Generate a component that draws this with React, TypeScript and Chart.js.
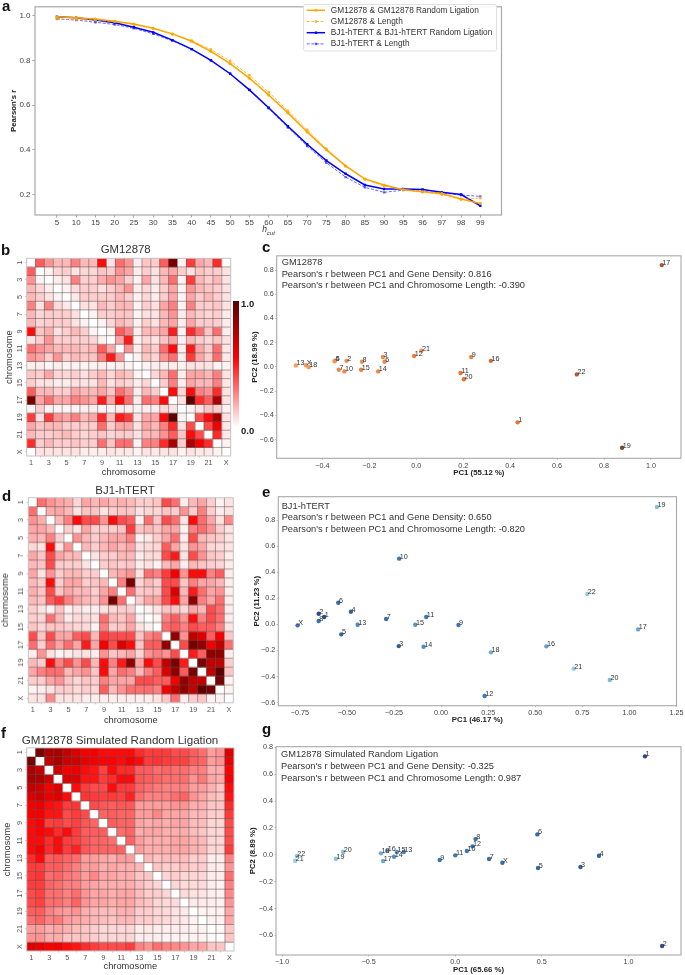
import React, { useEffect, useRef } from "react";
import { Chart, registerables } from "chart.js";

Chart.register(...registerables);

const FONT = "'Liberation Sans', Arial, sans-serif";
Chart.defaults.font.family = FONT;

// ---------- data ----------
const hcutLabels = ["5","10","15","20","25","30","35","40","45","50","55","60","65","70","75","80","85","90","95","96","97","98","99"];
const gmRandom = [.995,.99,.985,.975,.962,.943,.918,.885,.84,.785,.72,.645,.565,.48,.40,.328,.27,.243,.222,.213,.205,.18,.16];
const gmLength = [.985,.982,.98,.972,.96,.942,.918,.888,.848,.797,.733,.658,.575,.49,.405,.328,.268,.238,.222,.212,.2,.178,.185];
const bjRandom = [.995,.99,.98,.968,.948,.925,.89,.85,.8,.74,.668,.588,.505,.425,.352,.293,.243,.225,.225,.223,.21,.2,.15];
const bjLength = [.985,.98,.97,.96,.943,.918,.887,.85,.8,.74,.667,.585,.5,.417,.342,.278,.232,.21,.22,.215,.207,.198,.192];
const seriesNames = ["GM12878 & GM12878 Random Ligation","GM12878 & Length","BJ1-hTERT & BJ1-hTERT Random Ligation","BJ1-hTERT & Length"];
const pearsonTicks = [0.2,0.4,0.6,0.8,1.0];

const chroms = ["1","2","3","4","5","6","7","8","9","10","11","12","13","14","15","16","17","18","19","20","21","22","X"];

const gmUpper = [
[.4,.25,.15,.15,.3,.15,.15,.65,.05,.35,.25,.03,.12,.1,.4,.95,.02,.5,.2,.15,.55,0],
[.02,.08,.1,.05,.08,.08,.12,.1,.25,.2,.03,.1,.05,.15,.2,.1,.06,.12,.1,.1,.05],
[.03,.05,.3,.1,.1,.18,.25,.2,.1,.02,.2,.05,.15,.35,.02,.5,.15,.1,.15,.05],
[.02,.07,.1,.1,.06,.1,.15,.25,.03,.08,.03,.1,.2,.02,.25,.15,.12,.1,.05],
[.04,.1,.1,.1,.1,.15,.1,.02,.08,.03,.1,.2,.02,.2,.1,.15,.1,.05],
[.06,.05,.15,.1,.15,.15,.02,.1,.06,.2,.3,.02,.3,.1,.1,.12,.05],
[.02,.1,.1,.12,.12,.02,.06,.05,.15,.25,.03,.15,.1,.08,.1,.03],
[.02,.08,.15,.12,.02,.1,.05,.15,.2,.03,.2,.1,.1,.1,.03],
[.02,.4,.3,.03,.15,.15,.2,.6,.02,.55,.35,.12,.35,.03],
[.2,.6,.02,.08,.05,.12,.2,.02,.15,.1,.08,.12,.05],
[.25,.03,.15,.1,.35,.65,.03,.6,.2,.1,.35,.04],
[.02,.12,.08,.25,.35,.03,.5,.2,.1,.35,.04],
[.02,.03,.03,.03,.02,.05,.05,.05,.02,.02],
[.08,.15,.35,.03,.2,.2,.15,.3,.05],
[.1,.3,.03,.2,.15,.15,.3,.04],
[.65,.08,.65,.3,.25,.55,.05],
[.05,1,.55,.4,.85,.05],
[.02,.05,.12,.1,.02],
[.45,.65,.85,.05],
[.45,.7,.04],
[.55,.04],
[.02],
];

const bjUpper = [
[.35,.25,.2,.18,.08,.2,.15,.2,.15,.18,.15,.1,.1,.12,.45,.35,.03,.15,.2,.1,.02,.05],
[.18,.2,.15,.05,.12,.12,.05,.1,.12,.12,.05,.08,.08,.12,.1,.25,.1,.3,.1,.03,.05],
[.15,.3,.65,.45,.45,.25,.65,.45,.4,.02,.35,.12,.45,.35,.05,.65,.35,.2,.05,.28],
[.1,.05,.2,.1,.1,.1,.12,.5,.12,.15,.12,.2,.2,.02,.3,.35,.25,.1,.05],
[.25,.15,.1,.15,.2,.2,.3,.02,.04,.1,.2,.35,.03,.45,.15,.12,.1,.05],
[.15,.1,.15,.2,.15,.2,.05,.07,.08,.4,.2,.05,.25,.2,.08,.07,.05],
[.05,.1,.1,.15,.15,.03,.07,.07,.45,.6,.05,.45,.25,.12,.1,.03],
[.1,.12,.1,.12,.03,.05,.02,.15,.2,.03,.15,.12,.1,.08,.03],
[.15,.2,.25,.05,.35,.3,.5,.7,.25,.65,.65,.3,.4,.03],
[.3,.95,.08,.15,.1,.45,.45,.12,.3,.2,.2,.15,.03],
[.35,.1,.12,.12,.45,.75,.15,.6,.35,.2,.25,.03],
[.1,.2,.2,.45,.65,.2,.9,.3,.2,.35,.03],
[.02,.05,.12,.12,.08,.2,.15,.45,.35,.03],
[.02,.3,.4,.25,.65,.3,.45,.35,.03],
[.35,.4,.3,.45,.4,.4,.3,.05],
[.9,.25,.8,.75,.4,.7,.12],
[.45,.95,.9,.7,.8,.35],
[.6,.4,.9,.9,.03],
[.95,.8,.8,.1],
[.8,1,.12],
[.95,.02],
[.02],
];

const simUpper = [
[.95,.85,.85,.8,.75,.7,.7,.65,.65,.65,.65,.55,.5,.5,.5,.45,.45,.4,.35,.22,.25,.75],
[.8,.85,.78,.78,.72,.7,.68,.68,.65,.7,.65,.5,.52,.5,.48,.48,.4,.38,.22,.25,.72],
[.78,.7,.72,.65,.62,.48,.65,.55,.55,.4,.4,.35,.38,.35,.35,.3,.3,.18,.18,.68],
[.75,.75,.62,.62,.5,.55,.65,.65,.42,.4,.38,.35,.35,.35,.25,.32,.2,.18,.7],
[.65,.5,.45,.45,.65,.5,.5,.38,.35,.32,.3,.3,.3,.22,.22,.17,.12,.65],
[.52,.5,.48,.5,.48,.58,.35,.3,.3,.3,.35,.38,.25,.2,.14,.12,.62],
[.45,.42,.4,.42,.42,.22,.22,.22,.22,.25,.25,.18,.18,.12,.12,.55],
[.38,.4,.38,.38,.22,.22,.28,.2,.2,.2,.15,.15,.1,.1,.5],
[.4,.38,.38,.2,.18,.2,.18,.2,.2,.14,.14,.08,.08,.45],
[.35,.38,.18,.2,.2,.18,.18,.18,.14,.12,.08,.08,.45],
[.38,.22,.18,.18,.18,.2,.2,.17,.15,.08,.08,.45],
[.22,.18,.18,.18,.2,.2,.17,.15,.08,.08,.5],
[.15,.12,.14,.14,.14,.1,.1,.03,.03,.3],
[.12,.1,.1,.12,.1,.1,.04,.03,.25],
[.08,.1,.08,.08,.08,.03,.03,.35],
[.08,.07,.07,.07,.03,.02,.3],
[.07,.05,.05,.03,.02,.28],
[.04,.04,.03,.02,.25],
[.02,.02,.02,.2],
[.02,.02,.2],
[.01,.12],
[.12],
];

const geneDensity = [.6,.38,.38,.28,.33,.42,.42,.36,.45,.42,.6,.52,.2,.45,.5,.68,.85,.25,1,.6,.3,.8,.3];
const chromLength = [1,.97,.8,.77,.73,.69,.64,.59,.55,.54,.54,.53,.46,.43,.41,.36,.33,.32,.24,.26,.19,.2,.63];

const gmPc1 = [.432,-.297,-.142,-.348,-.346,-.135,-.33,-.231,.234,-.306,.189,-.009,-.513,-.162,-.235,.318,1.046,-.458,.877,.203,.022,.684,-.469];
const gmPc2 = [-.458,.05,.082,.047,.052,.042,-.024,.042,.082,-.037,-.051,.09,.012,-.037,-.024,.05,.841,-.002,-.668,-.102,.134,-.062,.014];
const bjPc1 = [-.621,-.65,-.225,-.479,-.53,-.546,-.292,-.65,.092,-.223,-.079,.231,-.443,-.093,-.137,.559,1.046,.265,1.146,.896,.704,.776,-.762];
const bjPc2 = [.057,.082,-.166,.097,-.076,.166,.041,.026,-.005,.504,.057,-.549,-.002,-.171,-.002,-.168,-.038,-.214,.9,-.426,-.339,.233,-.007];
const simPc1 = [1.096,1.195,.723,.83,.478,.474,.195,.117,-.09,.067,0,.099,-.298,-.354,-.337,-.394,-.417,-.43,-.69,-.648,-.925,-.916,.272];
const simPc2 = [.733,-.679,-.091,-.007,-.098,.152,-.031,.117,-.039,.028,-.004,.063,.021,-.014,.021,.031,-.046,.011,-.029,.021,-.044,-.009,-.059];

const gmXTicks = [-.4,-.2,0,.2,.4,.6,.8,1];
const gmYTicks = [-.6,-.4,-.2,0,.2,.4,.6,.8];
const bjXTicks = [-.75,-.5,-.25,0,.25,.5,.75,1,1.25];
const bjYTicks = [-.6,-.4,-.2,0,.2,.4,.6,.8];
const simXTicks = [-1,-.5,0,.5,1];
const simYTicks = [-.6,-.4,-.2,0,.2,.4,.6,.8];

const gmNotes = ["GM12878","Pearson's r between PC1 and Gene Density: 0.816","Pearson's r between PC1 and Chromosome Length: -0.390"];
const bjNotes = ["BJ1-hTERT","Pearson's r between PC1 and Gene Density: 0.650","Pearson's r between PC1 and Chromosome Length: -0.820"];
const simNotes = ["GM12878 Simulated Random Ligation","Pearson's r between PC1 and Gene Density: -0.325","Pearson's r between PC1 and Chromosome Length: 0.987"];

// ---------- helpers ----------
const mirror = (upper: number[][]) => {
  const n = upper.length + 1;
  const m = Array.from({ length: n }, () => new Array(n).fill(0));
  upper.forEach((row, i) => row.forEach((v, k) => { m[i][i + 1 + k] = v; m[i + 1 + k][i] = v; }));
  return m;
};

const mix = (a: number[], b: number[], t: number) => a.map((c, i) => Math.round(c + (b[i] - c) * t));
const RED_AT = 0.68;
const heatColor = (v: number) => {
  const c = v < RED_AT ? mix([255,255,255],[255,0,0], Math.pow(v / RED_AT, 0.85)) : mix([255,0,0],[95,0,0], (v - RED_AT) / (1 - RED_AT));
  return `rgb(${c.join(",")})`;
};
const orangeColor = (v: number) => {
  const c = v < 0.6 ? mix([253,180,120],[235,115,55], v / 0.6) : mix([235,115,55],[125,70,50], (v - 0.6) / 0.4);
  return `rgb(${c.join(",")})`;
};
const blueColor = (v: number) => {
  const c = v < 0.5 ? mix([150,205,235],[60,125,185], (v - 0.19) / 0.31) : mix([60,125,185],[45,75,130], (v - 0.5) / 0.5);
  return `rgb(${c.join(",")})`;
};

const fmt = (v: number, d: number) => (v < 0 ? "\u2212" : "") + Math.abs(v).toFixed(d);

const framePlugin = (color: string, width: number) => ({
  id: "frame",
  afterDraw(chart: any) {
    const { ctx, chartArea: a } = chart;
    ctx.save();
    ctx.strokeStyle = color;
    ctx.lineWidth = width;
    ctx.strokeRect(a.left, a.top, a.right - a.left, a.bottom - a.top);
    ctx.restore();
  },
});

const cellGridPlugin = {
  id: "cellGrid",
  afterDatasetsDraw(chart: any) {
    const { ctx, chartArea: a, scales } = chart;
    ctx.save();
    ctx.strokeStyle = "rgba(85,85,85,0.8)";
    ctx.lineWidth = 0.65;
    ctx.beginPath();
    const half = (scales.x.getPixelForValue(1) - scales.x.getPixelForValue(0)) / 2;
    chroms.forEach((_, i) => {
      if (i === 0) return;
      const px = scales.x.getPixelForValue(i) - half;
      ctx.moveTo(px, a.top);
      ctx.lineTo(px, a.bottom);
      const py = scales.y.getPixelForValue(i);
      ctx.moveTo(a.left, py);
      ctx.lineTo(a.right, py);
    });
    ctx.stroke();
    ctx.restore();
  },
};

const pointLabelPlugin = {
  id: "pointLabels",
  afterDatasetsDraw(chart: any) {
    const { ctx } = chart;
    const meta = chart.getDatasetMeta(0);
    ctx.save();
    ctx.font = `7.2px ${FONT}`;
    ctx.fillStyle = "#333";
    ctx.textBaseline = "middle";
    ctx.textAlign = "left";
    meta.data.forEach((p: any, i: number) => ctx.fillText(chroms[i], p.x + 0.6, p.y - 2));
    ctx.restore();
  },
};

const legendPlugin = {
  id: "innerLegend",
  afterDraw(chart: any) {
    const { ctx } = chart;
    ctx.save();
    ctx.fillStyle = "rgba(255,255,255,0.9)";
    ctx.strokeStyle = "#d8d8d8";
    ctx.lineWidth = 0.8;
    ctx.beginPath();
    ctx.roundRect(303.5, 4.5, 193, 46.5, 2);
    ctx.fill();
    ctx.stroke();
    ctx.font = `8.3px ${FONT}`;
    ctx.textBaseline = "middle";
    chart.data.datasets.forEach((d: any, i: number) => {
      const y = 10.3 + i * 11.2;
      ctx.strokeStyle = d.borderColor;
      ctx.lineWidth = d.borderWidth;
      ctx.setLineDash(d.borderDash || []);
      ctx.beginPath();
      ctx.moveTo(306.7, y);
      ctx.lineTo(325, y);
      ctx.stroke();
      ctx.setLineDash([]);
      ctx.fillStyle = d.pointBackgroundColor;
      ctx.fillRect(314.8, y - 1.2, 2.4, 2.4);
      ctx.fillStyle = "#333";
      ctx.fillText(d.label, 330.8, y);
    });
    ctx.restore();
  },
};

const Overlay = ({ x, y, children, style }: any) => (
  <div style={{ position: "absolute", left: x, top: y, whiteSpace: "nowrap", ...style }}>{children}</div>
);

const useChart = (ref: any, build: () => any) => {
  useEffect(() => {
    const c = new Chart(ref.current, build());
    return () => c.destroy();
  }, []);
};

const Canvas = React.forwardRef(({ x, y, w, h }: any, ref: any) => (
  <canvas ref={ref} width={w} height={h} style={{ position: "absolute", left: x, top: y, width: w, height: h }} />
));

// ---------- panel a ----------
function LinePanel() {
  const ref = useRef<HTMLCanvasElement>(null);
  const W = 510, H = 240;
  useChart(ref, () => {
    const series = [gmRandom, gmLength, bjRandom, bjLength];
    const colors = ["#ffa500", "rgba(255,165,0,0.75)", "#0000ff", "rgba(0,0,255,0.6)"];
    const toPts = (vals: number[]) => vals.map((v, i) => ({ x: i, y: v }));
    return {
      type: "line",
      data: {
        datasets: series.map((vals, i) => ({
          label: seriesNames[i],
          data: toPts(vals),
          borderColor: colors[i],
          pointBackgroundColor: colors[i],
          pointBorderWidth: 0,
          borderWidth: i % 2 === 0 ? 1.5 : 1,
          borderDash: i % 2 === 0 ? [] : [3, 1.6],
          pointRadius: i < 2 ? 1.5 : 1.7,
          pointStyle: i < 2 ? "circle" : "rect",
          tension: 0,
        })),
      },
      options: {
        animation: false, responsive: false, events: [],
        layout: { padding: { left: 0, right: W - 501.5, top: 1, bottom: 0 } },
        plugins: { legend: { display: false }, tooltip: { enabled: false } },
        scales: {
          x: {
            type: "linear", min: -1.14, max: 23.1,
            afterFit: (s: any) => { s.height = H - 215; },
            afterBuildTicks: (s: any) => { s.ticks = hcutLabels.map((_, i) => ({ value: i })); },
            ticks: { autoSkip: false, maxRotation: 0, font: { size: 7.9 }, color: "#444", padding: 1, callback: (v: number) => hcutLabels[v] },
            grid: { drawOnChartArea: false, tickLength: 2.5, color: "#666", lineWidth: 0.6 },
            border: { display: false },
          },
          y: {
            min: 0.1087, max: 1.0391,
            afterFit: (s: any) => { s.width = 35; },
            afterBuildTicks: (s: any) => { s.ticks = pearsonTicks.map((v) => ({ value: v })); },
            ticks: { font: { size: 8 }, color: "#444", padding: 2, callback: (v: number) => v.toFixed(1) },
            grid: { drawOnChartArea: false, tickLength: 2.5, color: "#666", lineWidth: 0.6 },
            border: { display: false },
            title: { display: true, text: "Pearson's r", color: "#222", font: { size: 7.8, weight: "bold" }, padding: { top: 9.5, bottom: 0 } },
          },
        },
      },
      plugins: [framePlugin("#a8a8a8", 1.2), legendPlugin],
    };
  });
  return <Canvas ref={ref} x={0} y={0} w={W} h={H} />;
}

// ---------- heat maps ----------
function HeatPanel({ upper, x, y, w, h, area, titlePad }: any) {
  const ref = useRef<HTMLCanvasElement>(null);
  useChart(ref, () => {
    const m = mirror(upper);
    return {
      type: "bar",
      data: {
        labels: chroms,
        datasets: m.map((row: number[]) => ({
          data: row.map(() => 1),
          backgroundColor: row.map((v) => heatColor(v)),
          borderWidth: 0,
          barPercentage: 1,
          categoryPercentage: 1,
          stack: "s",
        })),
      },
      options: {
        animation: false, responsive: false, events: [],
        layout: { padding: { left: 0, right: w - (area.right - x), top: area.top - y, bottom: 0 } },
        plugins: { legend: { display: false }, tooltip: { enabled: false } },
        scales: {
          x: {
            stacked: true,
            afterFit: (s: any) => { s.height = y + h - area.bottom; },
            afterBuildTicks: (s: any) => { s.ticks = s.ticks.filter((t: any) => t.value % 2 === 0); },
            ticks: { autoSkip: false, maxRotation: 0, font: { size: 7.3 }, color: "#555", padding: 1.5, callback: (v: number) => chroms[v] },
            grid: { drawOnChartArea: false, tickLength: 1.5, color: "#888", lineWidth: 0.5 },
            border: { display: false },
            title: { display: true, text: "chromosome", color: "#333", font: { size: 9.3 }, padding: 0 },
          },
          y: {
            stacked: true, reverse: true, min: 0, max: chroms.length,
            afterFit: (s: any) => { s.width = area.left - x; },
            afterBuildTicks: (s: any) => { s.ticks = chroms.map((_, i) => ({ value: i + 0.5 })).filter((_, i) => i % 2 === 0); },
            ticks: { autoSkip: false, minRotation: 90, maxRotation: 90, crossAlign: "center", font: { size: 7.3 }, color: "#555", padding: 1.5, callback: (v: number) => chroms[Math.floor(v)] },
            grid: { drawOnChartArea: false, tickLength: 1.5, color: "#888", lineWidth: 0.5 },
            border: { display: false },
            title: { display: true, text: "chromosome", color: "#333", font: { size: 9.3 }, padding: { top: titlePad, bottom: 0 } },
          },
        },
      },
      plugins: [cellGridPlugin, framePlugin("#c4c4c4", 1)],
    };
  });
  return <Canvas ref={ref} x={x} y={y} w={w} h={h} />;
}

// ---------- PCA scatters ----------
function ScatterPanel({ px, py, colors, xTicks, yTicks, xDec, xTitle, yTitle, x, y, w, h, area, xr, yr, titlePad }: any) {
  const ref = useRef<HTMLCanvasElement>(null);
  useChart(ref, () => ({
    type: "scatter",
    data: {
      datasets: [{
        data: px.map((v: number, i: number) => ({ x: v, y: py[i] })),
        backgroundColor: colors,
        borderWidth: 0,
        pointRadius: 2.2,
      }],
    },
    options: {
      animation: false, responsive: false, events: [],
      layout: { padding: { left: 0, right: w - (area.right - x), top: area.top - y, bottom: 0 } },
      plugins: { legend: { display: false }, tooltip: { enabled: false } },
      scales: {
        x: {
          type: "linear", min: xr[0], max: xr[1],
          afterFit: (s: any) => { s.height = y + h - area.bottom; },
          afterBuildTicks: (s: any) => { s.ticks = xTicks.map((v: number) => ({ value: v })); },
          ticks: { autoSkip: false, maxRotation: 0, font: { size: 7.2 }, color: "#444", padding: 1.5, callback: (v: number) => fmt(v, xDec) },
          grid: { drawOnChartArea: false, tickLength: 1.5, color: "#777", lineWidth: 0.5 },
          border: { display: false },
          title: { display: true, text: xTitle, color: "#222", font: { size: 7.8, weight: "bold" }, padding: 0 },
        },
        y: {
          type: "linear", min: yr[0], max: yr[1],
          afterFit: (s: any) => { s.width = area.left - x; },
          afterBuildTicks: (s: any) => { s.ticks = yTicks.map((v: number) => ({ value: v })); },
          ticks: { autoSkip: false, font: { size: 7.2 }, color: "#444", padding: 1.5, callback: (v: number) => fmt(v, 1) },
          grid: { drawOnChartArea: false, tickLength: 1.5, color: "#777", lineWidth: 0.5 },
          border: { display: false },
          title: { display: true, text: yTitle, color: "#222", font: { size: 7.8, weight: "bold" }, padding: { top: titlePad, bottom: 0 } },
        },
      },
    },
    plugins: [framePlugin("#a8a8a8", 1.1), pointLabelPlugin],
  }));
  return <Canvas ref={ref} x={x} y={y} w={w} h={h} />;
}

const PanelLetter = ({ x, y, c }: any) => (
  <Overlay x={x} y={y} style={{ font: `bold 15px/15px ${FONT}`, color: "#111" }}>{c}</Overlay>
);
const HeatTitle = ({ cx, cy, t, size }: any) => (
  <Overlay x={cx} y={cy} style={{ font: `${size}px/14px ${FONT}`, color: "#333", transform: "translate(-50%,-50%)" }}>{t}</Overlay>
);
const Notes = ({ x, ys, lines }: any) => (
  <>
    {lines.map((t: string, i: number) => (
      <Overlay key={i} x={x} y={ys + i * 11.65} style={{ font: `9.27px/12px ${FONT}`, color: "#333", transform: "translateY(-50%)" }}>{t}</Overlay>
    ))}
  </>
);

export default function App() {
  return (
    <div style={{ position: "absolute", left: 0, top: 0, width: 685, height: 975, overflow: "hidden", background: "#fff", fontFamily: FONT, filter: "blur(0.35px)" }}>
      <LinePanel />
      <Overlay x={268.5} y={229} style={{ font: `italic 8.5px/10px ${FONT}`, color: "#333", transform: "translate(-50%,-50%)" }}>
        h<sub style={{ fontSize: 6, lineHeight: 0 }}>cut</sub>
      </Overlay>

      <HeatPanel upper={gmUpper} x={0} y={250} w={240} h={228} area={{ left: 26.7, right: 230.7, top: 258.3, bottom: 456 }} titlePad={3.4} />
      <HeatTitle cx={125.7} cy={249.3} t="GM12878" size={11.4} />
      <div style={{ position: "absolute", left: 233.3, top: 300.7, width: 6, height: 126, background: "linear-gradient(to top, #fff 0%, #f00 55%, #5a0000 100%)" }} />
      <Overlay x={241} y={303} style={{ font: `bold 9.5px/11px ${FONT}`, color: "#222", transform: "translateY(-50%)" }}>1.0</Overlay>
      <Overlay x={241} y={430} style={{ font: `bold 9.5px/11px ${FONT}`, color: "#222", transform: "translateY(-50%)" }}>0.0</Overlay>

      <HeatPanel upper={bjUpper} x={0} y={490} w={240} h={235.5} area={{ left: 28.3, right: 233.3, top: 497.7, bottom: 702.3 }} titlePad={0} />
      <HeatTitle cx={125} cy={490} t="BJ1-hTERT" size={11.4} />

      <HeatPanel upper={simUpper} x={0} y={742} w={240} h={230} area={{ left: 26.7, right: 234, top: 747.3, bottom: 951 }} titlePad={1.7} />
      <HeatTitle cx={120} cy={740} t="GM12878 Simulated Random Ligation" size={11.6} />

      <ScatterPanel px={gmPc1} py={gmPc2} colors={geneDensity.map((v) => orangeColor(v))} xTicks={gmXTicks} yTicks={gmYTicks} xDec={1}
        xTitle="PC1 (55.12 %)" yTitle="PC2 (18.99 %)" x={250} y={250} w={435} h={228}
        area={{ left: 276.7, right: 684, top: 253.3, bottom: 458.3 }} xr={[-0.5945, 1.128]} yr={[-0.755, 0.9175]} titlePad={0} />
      <Notes x={281.7} ys={262} lines={gmNotes} />

      <ScatterPanel px={bjPc1} py={bjPc2} colors={chromLength.map((v) => blueColor(v))} xTicks={bjXTicks} yTicks={bjYTicks} xDec={2}
        xTitle="PC1 (46.17 %)" yTitle="PC2 (11.23 %)" x={250} y={490} w={435} h={235}
        area={{ left: 278.3, right: 678.3, top: 496.7, bottom: 705.7 }} xr={[-0.8645, 1.25]} yr={[-0.623, 0.979]} titlePad={2} />
      <Notes x={281.7} ys={505.7} lines={bjNotes} />

      <ScatterPanel px={simPc1} py={simPc2} colors={chromLength.map((v) => blueColor(v))} xTicks={simXTicks} yTicks={simYTicks} xDec={1}
        xTitle="PC1 (65.66 %)" yTitle="PC2 (8.89 %)" x={248} y={740} w={437} h={235}
        area={{ left: 276, right: 684, top: 746.7, bottom: 955 }} xr={[-1.036, 1.304]} yr={[-0.746, 0.805]} titlePad={0} />
      <Notes x={281} ys={754.3} lines={simNotes} />

      <PanelLetter x={2} y={-2.5} c="a" />
      <PanelLetter x={1} y={241.5} c="b" />
      <PanelLetter x={262} y={238.5} c="c" />
      <PanelLetter x={2} y={488} c="d" />
      <PanelLetter x={262} y={483.5} c="e" />
      <PanelLetter x={1} y={724.5} c="f" />
      <PanelLetter x={262} y={720.5} c="g" />
    </div>
  );
}
